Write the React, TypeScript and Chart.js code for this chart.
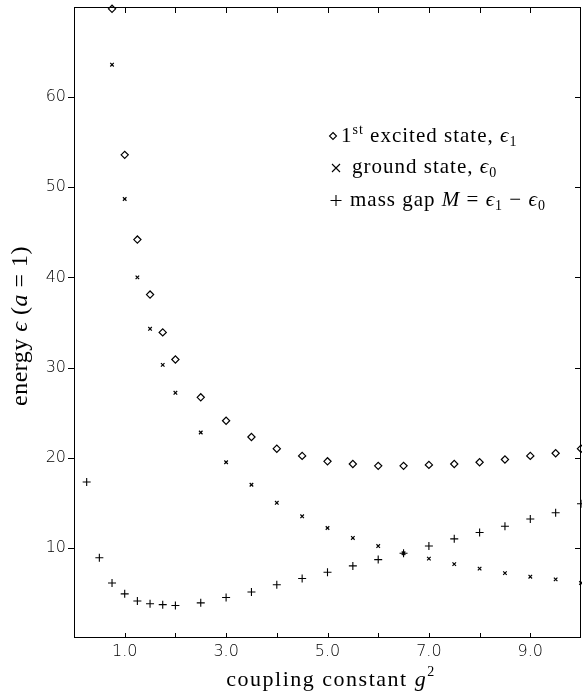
import React, { useEffect, useRef } from "react";
import { Chart, registerables } from "chart.js";

Chart.register(...registerables);

// coupling constant g^2 values
const gStates = [0.75, 1, 1.25, 1.5, 1.75, 2, 2.5, 3, 3.5, 4, 4.5, 5, 5.5, 6, 6.5, 7, 7.5, 8, 8.5, 9, 9.5, 10];
const gGap = [0.25, 0.5, 0.75, 1, 1.25, 1.5, 1.75, 2, 2.5, 3, 3.5, 4, 4.5, 5, 5.5, 6, 6.5, 7, 7.5, 8, 8.5, 9, 9.5, 10];

// 1st excited state energy
const excited = [69.8, 53.6, 44.2, 38.1, 33.9, 30.9, 26.7, 24.1, 22.3, 21.0, 20.2, 19.6, 19.3, 19.1, 19.1, 19.2, 19.3, 19.5, 19.8, 20.2, 20.5, 21.0];
// ground state energy
const ground = [63.6, 48.7, 40.0, 34.3, 30.3, 27.2, 22.8, 19.5, 17.0, 15.0, 13.5, 12.2, 11.1, 10.2, 9.4, 8.8, 8.2, 7.7, 7.2, 6.8, 6.5, 6.1];
// mass gap
const gap = [17.3, 8.9, 6.1, 4.9, 4.1, 3.8, 3.7, 3.6, 3.9, 4.5, 5.1, 5.9, 6.6, 7.3, 8.0, 8.7, 9.4, 10.2, 11.0, 11.7, 12.4, 13.2, 13.9, 14.9];

const xTickLabels = ["1.0", "3.0", "5.0", "7.0", "9.0"];
const yTickLabels = ["10", "20", "30", "40", "50", "60"];

const SERIF = "'Liberation Serif', 'DejaVu Serif', serif";
const SANS = "'DejaVu Sans', sans-serif";

const framePlugin = {
  id: "frame",
  afterDraw(chart: any) {
    const ctx = chart.ctx;
    const a = chart.chartArea;
    const xs = chart.scales.x;
    const ys = chart.scales.y;
    ctx.save();
    ctx.strokeStyle = "#000";
    ctx.lineWidth = 1;
    ctx.strokeRect(a.left + 0.5, a.top + 0.5, a.right - a.left - 1, a.bottom - a.top - 1);
    ctx.beginPath();
    // x ticks inward bottom and top
    for (let v = 1; v <= 9; v++) {
      const px = Math.round(xs.getPixelForValue(v)) + 0.5;
      ctx.moveTo(px, a.bottom);
      ctx.lineTo(px, a.bottom - 5);
      ctx.moveTo(px, a.top);
      ctx.lineTo(px, a.top + 6);
    }
    // y ticks: outward left, inward right
    for (let v = 10; v <= 60; v += 10) {
      const py = Math.round(ys.getPixelForValue(v)) + 0.5;
      ctx.moveTo(a.left, py);
      ctx.lineTo(a.left - 6, py);
      ctx.moveTo(a.right, py);
      ctx.lineTo(a.right - 6, py);
    }
    ctx.stroke();

    ctx.fillStyle = "#000";
    ctx.textBaseline = "alphabetic";

    const drawSeq = (x: number, y: number, seq: [string, string, number][], ls: string) => {
      let cx2 = x;
      for (const [t, f, dy] of seq) {
        ctx.font = f;
        (ctx as any).letterSpacing = ls;
        ctx.fillText(t, cx2, y + dy);
        cx2 += ctx.measureText(t).width;
      }
    };
    const seqWidth = (seq: [string, string, number][], ls: string) => {
      let w = 0;
      for (const [t, f] of seq) {
        ctx.font = f;
        (ctx as any).letterSpacing = ls;
        w += ctx.measureText(t).width;
      }
      return w;
    };

    // x title
    const xSeq: [string, string, number][] = [
      ["coupling constant ", `22px ${SERIF}`, 0],
      ["g", `italic 22px ${SERIF}`, 0],
      ["2", `14px ${SERIF}`, -10],
    ];
    const xw = seqWidth(xSeq, "1.5px");
    drawSeq(331 - xw / 2, 686, xSeq, "1.5px");

    // y title rotated (starts at bottom y=406)
    ctx.save();
    ctx.translate(27, 406);
    ctx.rotate(-Math.PI / 2);
    const ySeq: [string, string, number][] = [
      ["energy ", `24px ${SERIF}`, 0],
      ["\u03f5", `italic 24px ${SERIF}`, 0],
      [" (", `24px ${SERIF}`, 0],
      ["a", `italic 24px ${SERIF}`, 0],
      [" = 1)", `24px ${SERIF}`, 0],
    ];
    drawSeq(0, 0, ySeq, "0.5px");
    ctx.restore();

    // legend
    ctx.lineWidth = 1.1;
    const F = `21px ${SERIF}`;
    const FI = `italic 21px ${SERIF}`;
    const FS = `14px ${SERIF}`;
    const LS = "1px";
    // row 1: diamond
    ctx.beginPath();
    const dx = 333, dy1 = 136;
    ctx.moveTo(dx, dy1 - 3.5);
    ctx.lineTo(dx + 3.5, dy1);
    ctx.lineTo(dx, dy1 + 3.5);
    ctx.lineTo(dx - 3.5, dy1);
    ctx.closePath();
    ctx.stroke();
    drawSeq(341, 142, [
      ["1", F, 0],
      ["st", FS, -8],
      [" excited state, ", F, 0],
      ["\u03f5", FI, 0],
      ["1", FS, 4],
    ], LS);
    // row 2: cross
    ctx.beginPath();
    ctx.moveTo(332, 164);
    ctx.lineTo(340, 172);
    ctx.moveTo(340, 164);
    ctx.lineTo(332, 172);
    ctx.stroke();
    drawSeq(352, 173, [
      ["ground state, ", F, 0],
      ["\u03f5", FI, 0],
      ["0", FS, 4],
    ], LS);
    // row 3: plus
    ctx.beginPath();
    ctx.moveTo(330.5, 200.5);
    ctx.lineTo(341.5, 200.5);
    ctx.moveTo(336, 195);
    ctx.lineTo(336, 206);
    ctx.stroke();
    drawSeq(350, 206, [
      ["mass gap ", F, 0],
      ["M", FI, 0],
      [" = ", F, 0],
      ["\u03f5", FI, 0],
      ["1", FS, 4],
      [" \u2212 ", F, 0],
      ["\u03f5", FI, 0],
      ["0", FS, 4],
    ], LS);
    (ctx as any).letterSpacing = "0px";
    ctx.restore();
  },
};

export default function App() {
  const ref = useRef<HTMLCanvasElement | null>(null);
  useEffect(() => {
    if (!ref.current) return;
    const mk = (xs: number[], ys: number[]) => xs.map((x, i) => ({ x, y: ys[i] }));
    const chart = new Chart(ref.current, {
      type: "scatter",
      data: {
        datasets: [
          {
            label: "1st excited state, ϵ1",
            data: mk(gStates, excited),
            pointStyle: "rectRot",
            pointRadius: 3.6,
            borderColor: "#000",
            backgroundColor: "rgba(255,255,255,1)",
            borderWidth: 1.2,
            clip: false,
          },
          {
            label: "ground state, ϵ0",
            data: mk(gStates, ground),
            pointStyle: "crossRot",
            pointRadius: 2.5,
            borderColor: "#000",
            backgroundColor: "#000",
            borderWidth: 1.2,
            clip: false,
          },
          {
            label: "mass gap M = ϵ1 − ϵ0",
            data: mk(gGap, gap),
            pointStyle: "cross",
            pointRadius: 4,
            borderColor: "#000",
            backgroundColor: "#000",
            borderWidth: 1.1,
            clip: false,
          },
        ] as any,
      },
      options: {
        animation: false,
        responsive: false,
        devicePixelRatio: 1,
        layout: { autoPadding: false, padding: { left: 0, right: 1, top: 7, bottom: 0 } },
        plugins: { legend: { display: false }, tooltip: { enabled: false } },
        scales: {
          x: {
            type: "linear",
            min: 0,
            max: 10,
            grid: { display: false, drawTicks: false },
            border: { display: false },
            ticks: {
              stepSize: 1,
              autoSkip: false,
              maxRotation: 0,
              padding: 4,
              color: "#000",
              font: { family: SANS, size: 16, weight: "300" as any },
              callback: (v: any) => {
                const s = Number(v).toFixed(1);
                return xTickLabels.includes(s) ? s : "";
              },
            },
            afterFit: (s: any) => {
              s.height = 56;
              s.paddingLeft = 0;
              s.paddingRight = 0;
            },
          },
          y: {
            type: "linear",
            min: 0,
            max: 70,
            grid: { display: false, drawTicks: false },
            border: { display: false },
            ticks: {
              stepSize: 10,
              autoSkip: false,
              padding: 8,
              color: "#000",
              font: { family: SANS, size: 16, weight: "300" as any },
              callback: (v: any) => {
                const s = String(v);
                return yTickLabels.includes(s) ? s : "";
              },
            },
            afterFit: (s: any) => {
              s.width = 74;
              s.paddingTop = 0;
              s.paddingBottom = 0;
            },
          },
        },
      },
      plugins: [framePlugin],
    });
    return () => chart.destroy();
  }, []);
  return (
    <div style={{ position: "absolute", left: 0, top: 0, width: 582, height: 694, background: "#fff" }}>
      <canvas ref={ref} width={582} height={694} style={{ display: "block", width: 582, height: 694 }} />
    </div>
  );
}
